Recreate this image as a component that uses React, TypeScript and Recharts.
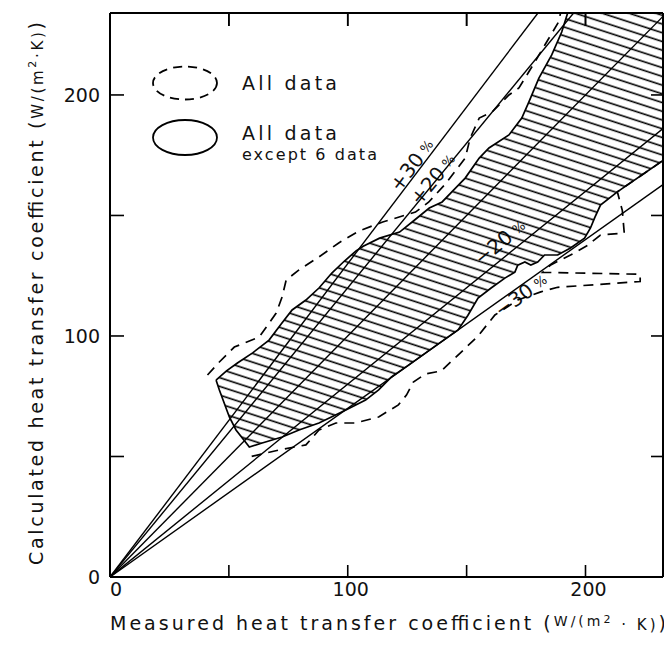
import React from "react";
import { ComposedChart, Scatter, XAxis, YAxis, Legend, ReferenceLine } from "recharts";

const FONT = "'DejaVu Sans', sans-serif";

// axis extents
const X_MAX = 232.6;
const Y_MAX = 234;

const xLabelTicks = [0, 100, 200];
const yLabelTicks = [0, 100, 200];
const minorTicks = [50, 100, 150, 200];

// deviation lines drawn from the origin (percent)
const deviations = [30, 20, 0, -20, -30];
const deviationLabels = ["+30", "+20", "", "\u221220", "\u221230"];

const legendNames = ["All  data", "All  data", "except 6 data"];

// envelope of all data (dashed), [measured, calculated]
const allDataOutline = [
  [41, 83.8], [46, 89.2], [52.3, 95.4], [62.8, 99.6], [69.9, 109.5], [72.4, 116.2],
  [74.1, 123.2], [79.5, 127.4], [87.9, 132.8], [96.2, 138.6], [104.6, 143.5],
  [114.7, 147.3], [128.5, 151.4], [134, 155.5], [141, 163], [149.4, 173.8],
  [151.5, 182.1], [155.3, 190.4], [160.7, 192.9], [167.8, 200], [172, 202.9],
  [178.7, 213.7], [182.9, 220.7], [188.7, 230.3], [189.5, 234], [232.6, 234],
  [232.6, 172.8], [213.4, 159.8], [215.5, 152], [216.3, 142.7], [206.3, 141.9],
  [200.8, 137.5], [193.7, 133.6], [185.4, 129.5], [182, 126.4], [223, 125.6],
  [223, 122.6], [188.3, 120.2], [181.2, 118.3], [171.5, 114.9], [161.9, 108.7],
  [154.8, 100], [145.6, 91.3], [139.3, 85.5], [132.6, 84.2], [127.6, 80.9],
  [124.7, 75.5], [121.3, 71.4], [113, 66.4], [103.3, 63.9], [95, 63.9],
  [87.9, 61], [82.4, 54.8], [71.1, 52.7], [56.9, 49.4],
];

// envelope of all data except 6 (hatched)
const except6Outline = [
  [44.6, 81.7], [49, 85.5], [53.6, 88.8], [60, 93], [66.9, 98.3], [72, 105],
  [76.6, 110.8], [82.4, 114.9], [88, 120], [93.3, 126.1], [98.5, 131], [103.5, 135.3],
  [106.5, 137.2], [113.4, 140.6], [121.8, 143.1], [128, 148], [134.3, 153.1],
  [139.7, 155.6], [144.5, 160.5], [149.4, 165.5], [155.3, 173.8], [159.4, 178],
  [167.8, 183.4], [173.2, 190.4], [176.2, 197.1], [180.4, 207], [185.8, 216.6],
  [190, 226.1], [192.5, 234], [232.6, 234], [232.6, 172.8], [213.4, 159.8],
  [206.3, 154.3], [203.8, 148.9], [202.1, 144.8], [199.6, 140.6], [193.7, 136.5],
  [188.3, 133.6], [182.8, 133.6], [179.9, 130.7], [177, 129.4], [174.5, 130.7],
  [171.5, 129.4], [170.3, 126.5], [166.1, 124], [160.3, 119.9], [154.8, 115.7],
  [150.5, 108.5], [146.4, 102.5], [138.1, 96.7], [130, 91], [125, 87.5],
  [118.4, 83], [113, 77.6], [107.5, 73.4], [99.2, 69.3], [87.9, 63.9], [79.5, 61],
  [72.4, 58.1], [64, 55.6], [58.6, 53.9], [57.3, 55.6], [53, 61], [50.2, 66.4],
  [46, 77.6], [44.6, 81.7],
];

const toPts = (a: number[][]) => a.map(([x, y]) => ({ x, y }));

const W = 664;
const H = 633;
const MARGIN = { top: 5, right: 9, bottom: 24, left: 42 };
const PLOT_W = W - MARGIN.left - MARGIN.right - 60;
const PLOT_H = H - MARGIN.top - MARGIN.bottom - 40;

// where the percent labels sit (chart px)
const labelPos: Record<string, { x: number; y: number }> = {
  "30": { x: 404, y: 157 },
  "20": { x: 425, y: 171 },
  "-20": { x: 492, y: 234 },
  "-30": { x: 513, y: 287 },
};

const noDot = () => <g />;

const LegendBox = () => (
  <svg width={260} height={120} style={{ overflow: "visible" }}>
    <ellipse cx={40} cy={28} rx={32} ry={16.5} fill="none" stroke="#000" strokeWidth={1.8} strokeDasharray="9 6" />
    <text x={97} y={35} fontSize={19} fontFamily={FONT} textLength={95} lengthAdjust="spacing" fill="#111">
      {legendNames[0]}
    </text>
    <ellipse cx={40} cy={82.5} rx={32} ry={17.5} fill="none" stroke="#000" strokeWidth={1.8} />
    <text x={97} y={85} fontSize={19} fontFamily={FONT} textLength={95} lengthAdjust="spacing" fill="#111">
      {legendNames[1]}
    </text>
    <text x={97} y={105} fontSize={16} fontFamily={FONT} textLength={135} lengthAdjust="spacing" fill="#111">
      {legendNames[2]}
    </text>
  </svg>
);

const axisLine = { stroke: "#000", strokeWidth: 2 };
const tickLine = { stroke: "#000", strokeWidth: 1.6 };
const tickStyle = { fill: "#111", fontSize: 19, fontFamily: FONT };

const XTick = (props: any) => {
  const { x, y, payload } = props;
  return (
    <text x={x + (payload.value === 0 ? 6 : 3)} y={y} dy="0.71em" textAnchor="middle" fill="#111"
      fontSize={19} fontFamily={FONT}>
      {payload.value}
    </text>
  );
};

export default function App() {
  const kx = PLOT_W / X_MAX;
  const ky = PLOT_H / Y_MAX;
  const outlinePts = toPts(allDataOutline);
  const topTickLen = 13 / ky; // inward tick length on the top frame, in data units
  return (
    <ComposedChart width={W} height={H} margin={MARGIN}>
      <defs>
        <pattern id="hatch" width={12} height={8.3} patternUnits="userSpaceOnUse" patternTransform="rotate(18)">
          <line x1={0} y1={4} x2={12} y2={4} stroke="#000" strokeWidth={1.6} />
        </pattern>
      </defs>

      <XAxis xAxisId="x" type="number" dataKey="x" domain={[0, X_MAX]} allowDataOverflow
        ticks={xLabelTicks} interval={0} tickSize={0} tickMargin={6} tickLine={false}
        axisLine={axisLine} tick={<XTick />} height={40} />
      <XAxis xAxisId="xb" type="number" dataKey="x" domain={[0, X_MAX]} allowDataOverflow ticks={minorTicks}
        interval={0} mirror axisLine={false} tickSize={12} tickLine={tickLine} tickFormatter={() => ""} />
      <XAxis xAxisId="xt" orientation="top" type="number" dataKey="x" domain={[0, X_MAX]} allowDataOverflow
        ticks={minorTicks} interval={0} mirror axisLine={axisLine} tickSize={13} tickLine={tickLine}
        tickFormatter={() => ""} />
      <YAxis yAxisId="y" type="number" dataKey="y" domain={[0, Y_MAX]} allowDataOverflow
        ticks={yLabelTicks} interval={0} width={60} tickSize={0} tickMargin={10} tickLine={false}
        axisLine={axisLine} tick={tickStyle} />
      <YAxis yAxisId="yl" type="number" dataKey="y" domain={[0, Y_MAX]} allowDataOverflow ticks={minorTicks}
        interval={0} mirror axisLine={false} tickSize={14} tickLine={tickLine} tickFormatter={() => ""} />
      <YAxis yAxisId="yr" orientation="right" type="number" dataKey="y" domain={[0, Y_MAX]} allowDataOverflow
        ticks={minorTicks} interval={0} mirror axisLine={axisLine} tickSize={12} tickLine={tickLine}
        tickFormatter={() => ""} />

      {/* invisible items so the frame axes get their scales */}
      <Scatter xAxisId="xb" yAxisId="yl" data={outlinePts} shape={noDot} isAnimationActive={false} legendType="none" />
      <Scatter xAxisId="xt" yAxisId="yr" data={outlinePts} shape={noDot} isAnimationActive={false} legendType="none" />

      <Scatter xAxisId="x" yAxisId="y" name="All data except 6 data" data={toPts(except6Outline)}
        line={{ stroke: "#000", strokeWidth: 1.7, fill: "url(#hatch)" }} lineType="joint"
        shape={noDot} isAnimationActive={false} legendType="none" />
      <Scatter xAxisId="x" yAxisId="y" name="All data" data={outlinePts}
        line={{ stroke: "#000", strokeWidth: 1.7, strokeDasharray: "10 7", fill: "none" }} lineType="joint"
        shape={noDot} isAnimationActive={false} legendType="none" />
      {deviations.map((p) => {
        const r = 1 + p / 100;
        const ex = Math.min(X_MAX, Y_MAX / r);
        return (
          <Scatter key={p} xAxisId="x" yAxisId="y" data={[{ x: 0, y: 0 }, { x: ex, y: r * ex }]}
            line={{ stroke: "#000", strokeWidth: 1.4, fill: "none" }} lineType="joint"
            shape={noDot} isAnimationActive={false} legendType="none" />
        );
      })}
      <ReferenceLine xAxisId="x" yAxisId="y" x={X_MAX} stroke="#000" strokeWidth={2} ifOverflow="visible" />
      {minorTicks.map((v) => (
        <ReferenceLine key={"tt" + v} xAxisId="x" yAxisId="y" ifOverflow="visible" stroke="#000" strokeWidth={1.6}
          segment={[{ x: v, y: Y_MAX }, { x: v, y: Y_MAX - topTickLen }]} />
      ))}

      {deviations.map((p, i) => {
        const pos = labelPos[String(p)];
        if (!pos) return null;
        const deg = (-Math.atan(((1 + p / 100) * ky) / kx) * 180) / Math.PI;
        return (
          <text key={"l" + p} transform={`translate(${pos.x},${pos.y}) rotate(${deg})`} textAnchor="middle"
            dominantBaseline="central" fontSize={20} fontFamily={FONT} fill="#111"
            stroke="#fff" strokeWidth={5} paintOrder="stroke" strokeLinejoin="round">
            {deviationLabels[i]}
            <tspan fontSize={13} dx={5}>%</tspan>
          </text>
        );
      })}

      <text x={102} y={622} textLength={556} lengthAdjust="spacing" fontSize={19} fontFamily={FONT} fill="#111">
        Measured heat transfer coefficient (<tspan fontSize={14} dy={-4}>W/(m</tspan>
        <tspan fontSize={11} dy={-3}>2</tspan>
        <tspan fontSize={15} dy={7}>{" \u00b7 K)"}</tspan>
        <tspan fontSize={19}>)</tspan>
      </text>
      <text transform="translate(35,557) rotate(-90)" x={0} y={0} textLength={543} lengthAdjust="spacing"
        fontSize={19} fontFamily={FONT} fill="#111">
        Calculated heat transfer coefficient (<tspan fontSize={15}>W/(m</tspan>
        <tspan fontSize={11} dy={-7}>2</tspan>
        <tspan fontSize={15} dy={7}>{"\u00b7K)"}</tspan>
        <tspan fontSize={19}>)</tspan>
      </text>

      <Legend layout="horizontal" verticalAlign="middle" align="center"
        wrapperStyle={{ position: "absolute", left: 137, top: 47, width: 260, height: 120 }}
        content={() => <LegendBox />} />
    </ComposedChart>
  );
}
